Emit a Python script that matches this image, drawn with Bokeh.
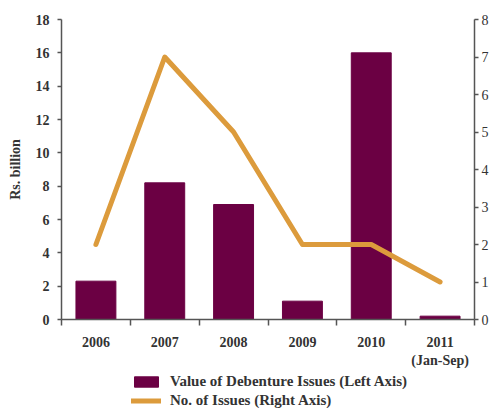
from bokeh.plotting import figure
from bokeh.models import (Range1d, LinearAxis, FixedTicker, Legend, LegendItem)
from bokeh.layouts import column
from bokeh.embed import file_html
from bokeh.resources import INLINE

categories = ["2006", "2007", "2008", "2009", "2010", "2011\n(Jan-Sep)"]
debenture_value = [2.3, 8.2, 6.9, 1.1, 16.0, 0.2]   # Rs. billion (left axis)
num_issues = [2, 7, 5, 2, 2, 1]                     # right axis
left_ticks = [0, 2, 4, 6, 8, 10, 12, 14, 16, 18]
right_ticks = [0, 1, 2, 3, 4, 5, 6, 7, 8]
legend_labels = ["Value of Debenture Issues (Left Axis)", "No. of Issues (Right Axis)"]

FONT = "Liberation Serif"
BAR = "#6B0043"
LINE = "#DC9B3C"
AXIS = "#555555"
TXT = "#333333"

xpos = [i + 0.5 for i in range(len(categories))]

p = figure(width=491, height=370, output_backend="svg", toolbar_location=None,
           x_range=Range1d(0, len(categories)), y_range=Range1d(0, 18),
           min_border_left=61, min_border_right=0, min_border_top=19,
           min_border_bottom=50, title=None)
p.outline_line_color = None
p.xgrid.visible = False
p.ygrid.visible = False
p.background_fill_color = "white"
p.border_fill_color = "white"

p.extra_y_ranges = {"right": Range1d(0, 8)}

p.vbar(x=xpos, top=debenture_value, width=0.58, color=BAR)
p.line(x=xpos, y=num_issues, y_range_name="right", line_color=LINE,
       line_width=5, line_cap="round", line_join="round")

# x axis
xa = p.xaxis[0]
xa.ticker = FixedTicker(ticks=xpos, minor_ticks=list(range(len(categories) + 1)))
xa.major_label_overrides = {x: c for x, c in zip(xpos, categories)}
xa.major_tick_line_color = None
xa.major_tick_out = 0
xa.major_tick_in = 0
xa.minor_tick_out = 6
xa.minor_tick_in = 0
xa.minor_tick_line_color = AXIS
xa.minor_tick_line_width = 1.5
xa.axis_line_color = AXIS
xa.axis_line_width = 1.5
xa.major_label_standoff = 9
xa.major_label_text_font = FONT
xa.major_label_text_font_style = "bold"
xa.major_label_text_font_size = "14px"
xa.major_label_text_color = TXT

# left axis
ya = p.yaxis[0]
ya.ticker = FixedTicker(ticks=left_ticks, minor_ticks=[])
ya.axis_label = "Rs. billion"
ya.axis_label_text_font = FONT
ya.axis_label_text_font_style = "bold"
ya.axis_label_text_font_size = "14px"
ya.axis_label_text_color = TXT
ya.axis_label_standoff = 10
ya.major_tick_out = 4
ya.major_tick_in = 0
ya.minor_tick_line_color = None
ya.axis_line_color = AXIS
ya.axis_line_width = 1.5
ya.major_tick_line_color = AXIS
ya.major_tick_line_width = 1.5
ya.major_label_standoff = 8
ya.major_label_text_font = FONT
ya.major_label_text_font_style = "bold"
ya.major_label_text_font_size = "14px"
ya.major_label_text_color = TXT

# right axis
ra = LinearAxis(y_range_name="right", ticker=FixedTicker(ticks=right_ticks, minor_ticks=[]))
ra.major_tick_out = 4
ra.major_tick_in = 0
ra.axis_line_color = AXIS
ra.axis_line_width = 1.5
ra.major_tick_line_color = AXIS
ra.major_tick_line_width = 1.5
ra.major_label_standoff = 3
ra.major_label_text_font = FONT
ra.major_label_text_font_size = "14px"
ra.major_label_text_color = TXT
p.add_layout(ra, "right")

# legend strip below the chart (its glyph renderers hold the same series,
# but lie outside this strip's visible range, so only the legend shows)
q = figure(width=491, height=38, output_backend="svg", toolbar_location=None,
           x_range=Range1d(100, 101), y_range=Range1d(100, 101),
           min_border=0, title=None)
q.outline_line_color = None
q.axis.visible = False
q.grid.visible = False
lb = q.vbar(x=xpos, top=debenture_value, width=0.58, color=BAR)
ll = q.line(x=xpos, y=num_issues, line_color=LINE, line_width=5, line_cap="round")
legend = Legend(items=[LegendItem(label=legend_labels[0], renderers=[lb]),
                       LegendItem(label=legend_labels[1], renderers=[ll])],
                location=(70, -1), orientation="vertical",
                glyph_width=30, glyph_height=13, label_height=13, spacing=2,
                label_standoff=9, padding=0, margin=0,
                border_line_color=None, background_fill_alpha=0,
                label_text_font=FONT, label_text_font_style="bold",
                label_text_font_size="15px", label_text_color=TXT)
q.add_layout(legend, "center")

layout = column(p, q, spacing=0)
open("out.html", "w").write(file_html(layout, INLINE))
